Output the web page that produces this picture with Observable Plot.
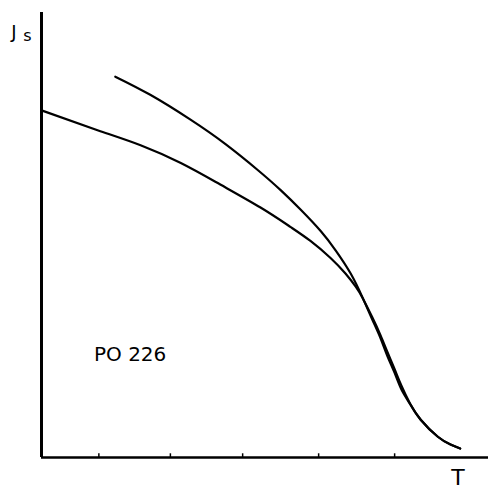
<!DOCTYPE html>
<html>
<head>
<meta charset="utf-8">
<script src="https://cdn.jsdelivr.net/npm/d3@7"></script>
<script src="https://cdn.jsdelivr.net/npm/@observablehq/plot@0.6"></script>
<style>
  html, body { margin: 0; padding: 0; background: #fff; }
  #chart svg { display: block; }
  g[aria-label="sample"] text { letter-spacing: 1.5px; }
</style>
</head>
<body>
<div id="chart"></div>
<script>
// Curve starting at the J axis
const curveA_T = [0, 0.79, 1.33, 1.87, 2.40, 2.94, 3.34, 3.61, 3.88, 4.08, 4.22, 4.31, 4.44, 4.55, 4.64, 4.74, 4.83, 4.95, 5.09, 5.32, 5.49, 5.62];
const curveA_J = [4.68, 4.40, 4.21, 3.97, 3.68, 3.37, 3.11, 2.92, 2.69, 2.48, 2.30, 2.15, 1.89, 1.65, 1.43, 1.19, 0.97, 0.72, 0.51, 0.28, 0.175, 0.12];
// Upper (steeper) curve
const curveB_T = [0.99, 1.46, 2.00, 2.47, 2.91, 3.21, 3.48, 3.75, 3.95, 4.15, 4.31, 4.44, 4.55, 4.64, 4.74, 4.83, 4.95, 5.09, 5.32, 5.49, 5.62];
const curveB_J = [5.135, 4.89, 4.555, 4.225, 3.87, 3.605, 3.34, 3.05, 2.79, 2.48, 2.155, 1.86, 1.61, 1.375, 1.14, 0.92, 0.716, 0.51, 0.28, 0.175, 0.12];
// tick marks on T axis
const tickT = [0.77, 1.73, 2.70, 3.72, 4.74];
// labels
const sampleLabel = "PO 226";
const xLabel = "T";
const yLabelMain = "J";
const yLabelSub = "s";

const A = curveA_T.map((t, i) => ({T: t, J: curveA_J[i]}));
const B = curveB_T.map((t, i) => ({T: t, J: curveB_J[i]}));

const chart = Plot.plot({
  width: 493,
  height: 494,
  marginLeft: 41,
  marginRight: 5,
  marginTop: 12,
  marginBottom: 37,
  x: {domain: [0, 6], axis: null},
  y: {domain: [0, 6], axis: null},
  style: {fontFamily: "'DejaVu Sans', 'Liberation Sans', sans-serif", color: "#000", background: "#fff"},
  marks: [
    Plot.ruleY([0], {x1: 0, x2: 6, stroke: "#000", strokeWidth: 2.5}),
    Plot.ruleX([0], {y1: 0, y2: 6, stroke: "#000", strokeWidth: 3}),
    Plot.ruleX(tickT, {y1: 0, y2: 0.05, stroke: "#000", strokeWidth: 1.5}),
    Plot.line(A, {x: "T", y: "J", curve: "natural", stroke: "#000", strokeWidth: 2.2}),
    Plot.line(B, {x: "T", y: "J", curve: "natural", stroke: "#000", strokeWidth: 2.2}),
    Plot.text([sampleLabel], {x: 1.19, y: 1.39, text: d => d, fontSize: 20, fill: "#000", textAnchor: "middle", lineAnchor: "middle", ariaLabel: "sample"}),
    Plot.text([xLabel], {x: 5.59, y: -0.27, text: d => d, fontSize: 22, fill: "#000", textAnchor: "middle", lineAnchor: "middle"}),
    Plot.text([yLabelMain], {x: -0.37, y: 5.65, text: d => d, fontSize: 18, fill: "#000", textAnchor: "middle", lineAnchor: "bottom"}),
    Plot.text([yLabelSub], {x: -0.19, y: 5.62, text: d => d, fontSize: 16, fill: "#000", textAnchor: "middle", lineAnchor: "bottom"})
  ]
});
document.getElementById("chart").appendChild(chart);
</script>
</body>
</html>
